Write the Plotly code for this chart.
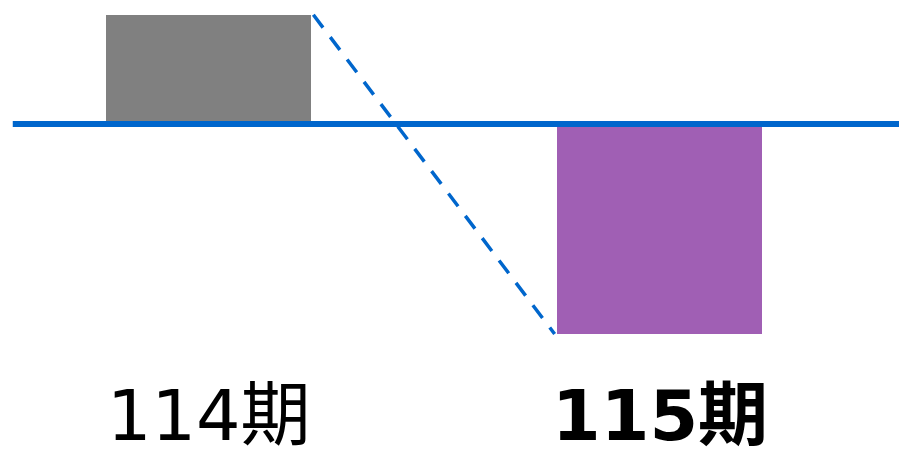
import plotly.graph_objects as go

# Period-over-period change (arbitrary units)
periods = ["114期", "115期"]
values = [0.52, -1.0]
bar_colors = ["#808080", "#A05FB4"]
label_weights = ["normal", "bold"]

bar_width = 0.455
xpos = [0, 1]

fig = go.Figure()

fig.add_trace(go.Bar(
    x=xpos, y=values, width=bar_width,
    marker=dict(color=bar_colors, line=dict(width=0)),
    hoverinfo="skip", showlegend=False,
))

# Dashed connector from the end of the first bar to the start of the second
fig.add_trace(go.Scatter(
    x=[xpos[0] + bar_width / 2 + 0.005, xpos[1] - bar_width / 2 - 0.005],
    y=[values[0], values[1]],
    mode="lines",
    line=dict(color="#0066CC", width=3.5, dash="16px,12px"),
    hoverinfo="skip", showlegend=False,
))

# Zero baseline
fig.add_shape(
    type="line", xref="x", yref="y",
    x0=-0.434, x1=1.54, y0=0, y1=0,
    line=dict(color="#0066CC", width=6),
)

for x, name, weight in zip(xpos, periods, label_weights):
    fig.add_annotation(
        x=x, y=0.078, xref="x", yref="paper",
        text=name if weight == "normal" else f"<b>{name}</b>",
        showarrow=False, yanchor="middle", xanchor="center",
        font=dict(family="DejaVu Sans, Noto Sans CJK JP", size=70, color="#000000"),
    )

fig.update_layout(
    width=899, height=451,
    margin=dict(l=0, r=0, t=0, b=0),
    paper_bgcolor="white", plot_bgcolor="white",
    xaxis=dict(range=[-0.4623, 1.531], visible=False, fixedrange=True),
    yaxis=dict(range=[-1.557, 0.5905], visible=False, fixedrange=True),
    bargap=0,
)

fig.write_html("out.html")
